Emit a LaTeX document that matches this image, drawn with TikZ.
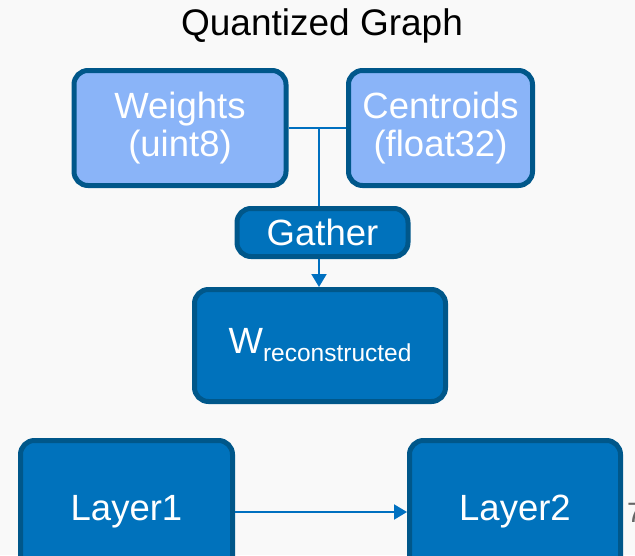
\documentclass[tikz,border=0pt]{standalone}
\usepackage{fontspec}
\setmainfont{Liberation Sans}
\usetikzlibrary{arrows.meta}
\definecolor{bg}{HTML}{F9F9F9}
\definecolor{lightfill}{HTML}{8AB4F8}
\definecolor{darkfill}{HTML}{0072BC}
\definecolor{edge}{HTML}{00578A}
\definecolor{wire}{HTML}{0070C0}
\tikzset{
  box/.style={draw=edge, line width=5pt, rounded corners=14pt, text=white, align=center, inner sep=0pt,
    font=\fontsize{36.5}{38}\selectfont},
  lightbox/.style={box, fill=lightfill},
  darkbox/.style={box, fill=darkfill},
  wireline/.style={draw=wire, line width=2pt},
  arrowline/.style={wireline, -{Triangle[length=13pt,width=15pt]}}
}
\begin{document}
\begin{tikzpicture}[x=1pt,y=-1pt]
\useasboundingbox (0,0) rectangle (635,555);
\clip (0,0) rectangle (635,555);
\fill[bg] (0,0) rectangle (635,555);
\node[font=\fontsize{37}{40}\selectfont] (title) at (322,26) {Quantized Graph};
\node[lightbox, minimum width=212pt, minimum height=115pt] (weights) at (180,128) {Weights\\(uint8)};
\node[lightbox, minimum width=184pt, minimum height=115pt] (centroids) at (440.5,128) {Centroids\\(float32)};
\node[darkbox, minimum width=171pt, minimum height=48pt] (gather) at (322.5,232.5) {Gather};
\node[darkbox, minimum width=251pt, minimum height=112pt] (wrec) at (320,345.5) {W\raisebox{-8pt}{\fontsize{24.5}{26}\selectfont reconstructed}};
\node[darkbox, minimum width=212pt, minimum height=143pt] (layer1) at (126.5,512) {Layer1};
\node[darkbox, minimum width=211pt, minimum height=143pt] (layer2) at (515,512) {Layer2};
\node[anchor=base west, inner sep=0pt, text=black!60, font=\fontsize{28}{30}\selectfont] (seven) at (627,522) {7};
\coordinate (junction) at (319,128);
\draw[wireline] (weights.east) -- (centroids.west);
\draw[wireline] (junction) -- (junction |- gather.north);
\draw[arrowline] (gather.south -| junction) -- (wrec.north -| junction);
\draw[arrowline] (layer1.east) -- (layer2.west);
\end{tikzpicture}
\end{document}
